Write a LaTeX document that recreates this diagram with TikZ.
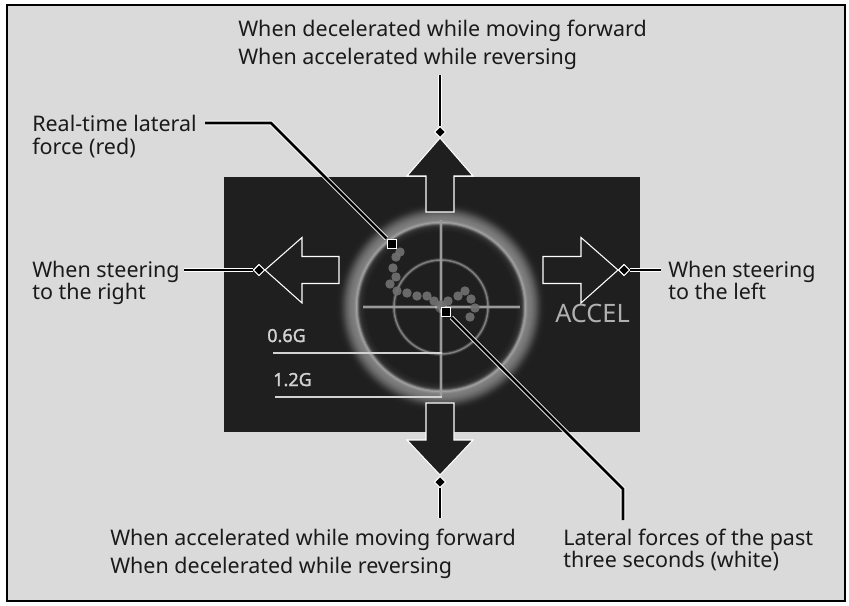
\documentclass[tikz,border=0pt]{standalone}
\usepackage{fontspec}
\setmainfont{Noto Sans}
\newfontfamily\scalefont[FakeBold=1.6]{Noto Sans}
\usetikzlibrary{shapes.geometric}
\definecolor{bgc}{HTML}{DADADA}
\definecolor{scr}{HTML}{1F1F1F}
\definecolor{txt}{HTML}{1A1A1A}
\definecolor{crossc}{HTML}{9A9A9A}
\definecolor{innerc}{HTML}{808080}
\definecolor{dotc}{HTML}{707070}
\definecolor{scalec}{HTML}{D2D2D2}
\definecolor{accelc}{HTML}{B0B0B0}
\tikzset{
  lbl/.style={anchor=base west, inner sep=0pt, text=txt, font=\fontsize{16.1pt}{19pt}\selectfont},
  leader/.style={draw=white, line width=3.4pt, postaction={draw=black, line width=1.9pt}},
  dmark/.style={diamond, fill=black, draw=white, line width=0.75pt, inner sep=0pt, minimum size=8.5pt},
  smark/.style={rectangle, fill=black, draw=white, line width=1.1pt, inner sep=0pt, minimum size=7pt},
  bigarrow/.style={fill=scr, draw=white, line width=0.8pt, line join=miter},
  scalelbl/.style={anchor=base west, inner sep=0pt, text=scalec, font=\scalefont\fontsize{13.5pt}{15pt}\selectfont},
}
\begin{document}
\begin{tikzpicture}[x=0.75pt,y=-0.75pt]
\useasboundingbox (0,0) rectangle (849,606);
\fill[white] (0,0) rectangle (849,606);
\draw[fill=bgc, draw=black, line width=0.9pt] (7,5) rectangle (845,601);
% screen
\fill[scr] (224,177) rectangle (640,432);
% glowing ring
\foreach \r/\p in {76/1,77/2,78/3,79/4,80/6,81/9,82/15,83/30,84/48,85/58,86/50,87/45,88/42,89/41,90/40,91/38,92/36,93/33,94/30,95/27,96/23,97/19,98/15,99/11,100/8,101/5,102/3,103/2,104/1}
  \draw[white!\p!scr, line width=1.2pt] (441,307) circle (\r);
% inner circle
\draw[innerc, line width=2.8pt, opacity=0.35] (441,307) circle (47);
\draw[innerc, line width=1.1pt] (441,307) circle (47);
% crosshair
\draw[crossc, line width=2.8pt, opacity=0.3] (441,220) -- (441,397) (363,307) -- (520,307);
\draw[crossc, line width=1.1pt] (441,220) -- (441,397) (363,307) -- (520,307);
\fill[white, opacity=0.25] (441,307) circle (6);
\fill[white, opacity=0.4] (441,307) circle (3);
% scale
\node[scalelbl] (s06) at (267,342) {0.6G};
\node[scalelbl] (s12) at (273,386) {1.2G};
\draw[scalec, line width=1pt] (273,353) -- (442,353);
\draw[scalec, line width=1pt] (275,397) -- (442,397);
% dots
\foreach \x/\y in {400/252,396/257,393/268,396/277,390/284,397/291,407/293,417/296,427/296,434/301,441/305,448/301,458/296,465/291,471/299,475/308,470/317}
  \fill[dotc, opacity=0.92] (\x,\y) circle (4.7);
% ACCEL
\node[anchor=base west, inner sep=0pt, text=accelc, font=\fontsize{19pt}{21pt}\selectfont] (accel) at (555,322) {ACCEL};
% arrows
\draw[bigarrow] (440,138) -- (473,176) -- (454,176) -- (454,212) -- (426,212) -- (426,176) -- (407,176) -- cycle;
\draw[bigarrow] (440,475) -- (473,440) -- (454,440) -- (454,403) -- (426,403) -- (426,440) -- (407,440) -- cycle;
\draw[bigarrow] (265,270) -- (302,237.5) -- (302,256.5) -- (339,256.5) -- (339,283.5) -- (302,283.5) -- (302,303) -- cycle;
\draw[bigarrow] (618,270) -- (581,237.5) -- (581,256.5) -- (543,256.5) -- (543,283.5) -- (581,283.5) -- (581,303) -- cycle;
% markers
\node[dmark] (dTop) at (440,132) {};
\node[dmark] (dBot) at (440,482) {};
\node[dmark] (dL) at (259,270) {};
\node[dmark] (dR) at (624,270) {};
\node[smark] (sqRT) at (392,244) {};
\node[smark] (sqLF) at (446,312) {};
% leader end points
\coordinate (tTop) at (440,75);
\coordinate (tBot) at (440,518);
\coordinate (tL) at (184,270);
\coordinate (tR) at (661,270);
\coordinate (rtStart) at (205,123);
\coordinate (rtBend) at (271,123);
\coordinate (lfBend) at (623,489);
\coordinate (lfEnd) at (623,520);
% leaders
\draw[leader] (tTop) -- (dTop);
\draw[leader] (dBot) -- (tBot);
\draw[leader] (tL) -- (dL);
\draw[leader] (dR) -- (tR);
\draw[leader] (rtStart) -- (rtBend) -- (sqRT);
\draw[leader] (sqLF) -- (lfBend) -- (lfEnd);
% redraw markers on top
\node[dmark] at (dTop) {};
\node[dmark] at (dBot) {};
\node[dmark] at (dL) {};
\node[dmark] at (dR) {};
\node[smark] at (sqRT) {};
\node[smark] at (sqLF) {};
% labels
\node[lbl] (top1) at (238,37) {When decelerated while moving forward};
\node[lbl] (top2) at (238,65) {When accelerated while reversing};
\node[lbl] (rt1) at (32,132) {Real-time lateral};
\node[lbl] (rt2) at (32,155) {force (red)};
\node[lbl] (sr1) at (32,277) {When steering};
\node[lbl] (sr2) at (32,299) {to the right};
\node[lbl] (sl1) at (668,277) {When steering};
\node[lbl] (sl2) at (668,299) {to the left};
\node[lbl] (bot1) at (110,545) {When accelerated while moving forward};
\node[lbl] (bot2) at (110,573) {When decelerated while reversing};
\node[lbl] (lf1) at (563,545) {Lateral forces of the past};
\node[lbl] (lf2) at (563,567) {three seconds (white)};
\end{tikzpicture}
\end{document}
